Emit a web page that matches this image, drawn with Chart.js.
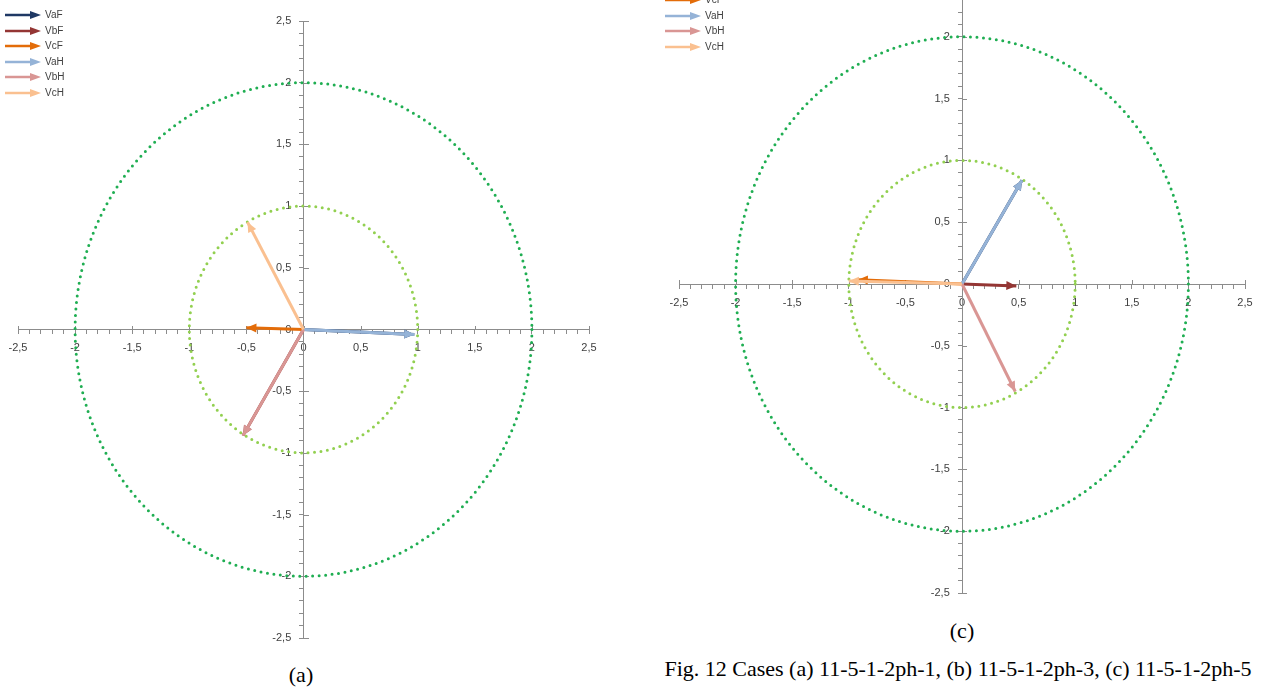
<!DOCTYPE html>
<html>
<head>
<meta charset="utf-8">
<script src="https://cdn.jsdelivr.net/npm/chart.js@4.4.1/dist/chart.umd.min.js"></script>
<style>
  body { margin: 0; background: #fff; width: 1263px; height: 689px; overflow: hidden; position: relative; font-family: "Liberation Sans", Arial, sans-serif; }
  canvas { position: absolute; }
  .legend { position: absolute; font-size: 10px; color: #404040; }
  .legend div { position: absolute; left: 0; height: 12px; line-height: 12px; white-space: nowrap; }
  .legend svg { vertical-align: middle; margin-right: 4px; }
  .cap { position: absolute; font-family: "Liberation Serif", "Times New Roman", serif; font-size: 22px; line-height: 26px; color: #000; transform: translateX(-50%); white-space: nowrap; }
</style>
</head>
<body>
<canvas id="chartA" width="620" height="660" style="left:0;top:0"></canvas>
<canvas id="chartC" width="603" height="660" style="left:660px;top:-46px"></canvas>
<div class="legend" id="legA" style="left:5px;top:9px"></div>
<div class="legend" id="legC" style="left:665px;top:-37px"></div>
<div class="cap" style="left:301px;top:662px">(a)</div>
<div class="cap" style="left:962px;top:618px">(c)</div>
<div class="cap" style="left:958px;top:656px">Fig. 12 Cases (a) 11-5-1-2ph-1, (b) 11-5-1-2ph-3, (c) 11-5-1-2ph-5</div>
<script>
// phasor names and tips (x = real, y = imaginary)
const seriesNames = ['VaF', 'VbF', 'VcF', 'VaH', 'VbH', 'VcH'];
const caseA_x = [0.97, -0.53, -0.50, 0.97, -0.53, -0.49];
const caseA_y = [-0.04, -0.86, 0.015, -0.04, -0.86, 0.87];
const caseC_x = [0.53, 0.48, -0.92, 0.53, 0.47, -1.0];
const caseC_y = [0.84, -0.016, 0.035, 0.84, -0.87, 0.025];
const circleRadii = [1, 2];
const majorTicks = [-2.5, -2, -1.5, -1, -0.5, 0, 0.5, 1, 1.5, 2, 2.5];

const colors = ['#1f3864', '#943634', '#e36c09', '#95b3d7', '#d99694', '#fac090'];
const circleColors = ['#92d050', '#1fae52'];
const axisColor = '#8c8c8c';

function fmt(v) {
  const hit = majorTicks.find(t => Math.abs(t - v) < 1e-6);
  if (hit === undefined) return '';
  return String(hit).replace('.', ',');
}

function axis(pos, pad, fmtFn) {
  return {
    type: 'linear', min: -2.5, max: 2.5, position: pos,
    grid: { drawOnChartArea: false, tickLength: 4, color: axisColor },
    border: { color: axisColor, width: 1 },
    ticks: {
      stepSize: 0.1, autoSkip: false, maxRotation: 0, padding: pad,
      color: '#404040', font: { size: 11, family: '"Liberation Sans", Arial' },
      callback: fmtFn
    }
  };
}

// y labels at a centred axis are right-aligned on the axis line itself, so pad them
const fmtY = v => { const s = fmt(v); return s ? s + '    ' : ''; };

const circles = {
  id: 'circles',
  beforeDatasetsDraw(chart) {
    const { ctx, scales: { x, y } } = chart;
    const cx = x.getPixelForValue(0), cy = y.getPixelForValue(0);
    ctx.save();
    // major ticks cross the axis: add the other half
    ctx.strokeStyle = axisColor;
    ctx.lineWidth = 1;
    ctx.beginPath();
    majorTicks.forEach(t => {
      const px = Math.round(x.getPixelForValue(t)) + 0.5;
      const py = Math.round(y.getPixelForValue(t)) + 0.5;
      ctx.moveTo(px, Math.round(cy) - 4); ctx.lineTo(px, Math.round(cy));
      ctx.moveTo(Math.round(cx), py); ctx.lineTo(Math.round(cx) + 5, py);
    });
    ctx.stroke();
    circleRadii.forEach((r, i) => {
      ctx.beginPath();
      ctx.ellipse(cx, cy, x.getPixelForValue(r) - cx, cy - y.getPixelForValue(r), 0, 0, Math.PI * 2);
      ctx.strokeStyle = circleColors[i];
      ctx.lineWidth = 3;
      ctx.lineCap = 'round';
      ctx.setLineDash([0, 6.5]);
      ctx.stroke();
    });
    ctx.restore();
  }
};

const heads = {
  id: 'heads',
  afterDatasetDraw(chart, args) {
    const pts = args.meta.data;
    const a = pts[0], b = pts[1];
    const ang = Math.atan2(b.y - a.y, b.x - a.x);
    const len = 10, w = 4.5;
    const ctx = chart.ctx;
    ctx.save();
    ctx.fillStyle = chart.data.datasets[args.index].borderColor;
    ctx.beginPath();
    ctx.moveTo(b.x, b.y);
    ctx.lineTo(b.x - len * Math.cos(ang) + w * Math.sin(ang), b.y - len * Math.sin(ang) - w * Math.cos(ang));
    ctx.lineTo(b.x - len * Math.cos(ang) - w * Math.sin(ang), b.y - len * Math.sin(ang) + w * Math.cos(ang));
    ctx.closePath();
    ctx.fill();
    ctx.restore();
  }
};

function makeChart(id, xs, ys, padding) {
  const datasets = seriesNames.map((name, i) => ({
    label: name,
    data: [{ x: 0, y: 0 }, { x: xs[i], y: ys[i] }],
    borderColor: colors[i],
    backgroundColor: colors[i],
    borderWidth: 3,
    showLine: true,
    pointRadius: 0,
    order: seriesNames.length - i
  }));
  return new Chart(document.getElementById(id), {
    type: 'scatter',
    data: { datasets },
    options: {
      responsive: false,
      animation: false,
      layout: { padding },
      plugins: { legend: { display: false }, tooltip: { enabled: false } },
      scales: { x: axis({ y: 0 }, 8, fmt), y: axis({ x: 0 }, 7, fmtY) }
    },
    plugins: [circles, heads]
  });
}

function legend(id) {
  const box = document.getElementById(id);
  seriesNames.forEach((name, i) => {
    const row = document.createElement('div');
    row.style.top = (i * 15.5) + 'px';
    row.innerHTML = '<svg width="36" height="10"><line x1="0" y1="5" x2="27" y2="5" stroke="' + colors[i] +
      '" stroke-width="2.5"/><polygon points="25,1 36,5 25,9" fill="' + colors[i] + '"/></svg>' + name;
    box.appendChild(row);
  });
}

makeChart('chartA', caseA_x, caseA_y, { left: 18, top: 21, right: 31, bottom: 22 });
makeChart('chartC', caseC_x, caseC_y, { left: 19, top: 21, right: 18, bottom: 21 });
legend('legA');
legend('legC');
</script>
</body>
</html>
